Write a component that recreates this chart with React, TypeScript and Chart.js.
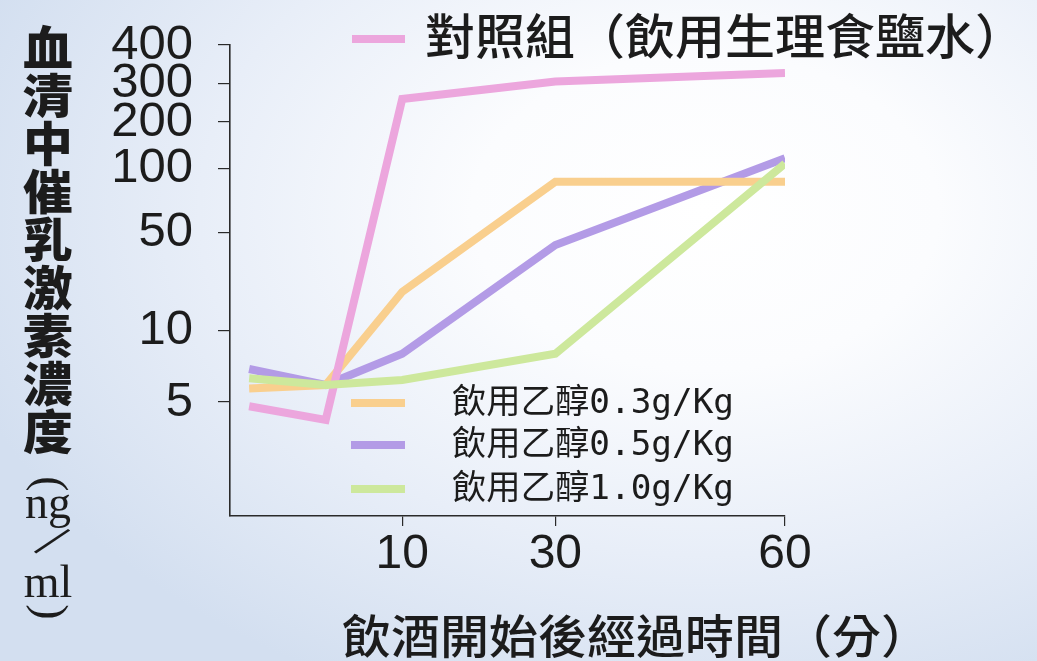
import React, { useEffect, useRef } from 'react';
import { Chart, registerables, LogarithmicScale } from 'chart.js';

Chart.register(...registerables);

// ---- data ----
const TIMES = [-10, 0, 10, 30, 60];
const CONTROL = [4.8, 4.2, 255, 305, 325];
const ETHANOL_03 = [5.7, 5.9, 19, 87, 87];
const ETHANOL_05 = [6.9, 5.9, 8.0, 41, 117];
const ETHANOL_10 = [6.3, 5.9, 6.2, 8.0, 108];

const SERIES_LABELS = ['對照組（飲用生理食鹽水）', '飲用乙醇0.3g/Kg', '飲用乙醇0.5g/Kg', '飲用乙醇1.0g/Kg'];
const X_TICKS = [10, 30, 60];
const Y_TICKS = [5, 10, 50, 100, 200, 300, 400];
// The original hand-drawn log axis: relative height of each tick mark on the axis
const Y_TICK_HEIGHTS = [0.242, 0.393, 0.601, 0.737, 0.8365, 0.918, 1];

const Y_TITLE = ['血', '清', '中', '催', '乳', '激', '素', '濃', '度'];
const X_TITLE = '飲酒開始後經過時間（分）';

const COLORS = ['#eca6dd', '#f9cf8e', '#b39be6', '#cde89c'];

class AnchoredLogScale extends LogarithmicScale {
  static id = 'anchoredLog';
  frac(value: number) {
    const L = Y_TICKS.map((v) => Math.log10(v));
    const H = Y_TICK_HEIGHTS;
    const lv = Math.log10(value);
    let i = 0;
    while (i < L.length - 2 && lv > L[i + 1]) i++;
    const t = (lv - L[i]) / (L[i + 1] - L[i]);
    return H[i] + t * (H[i + 1] - H[i]);
  }
  getPixelForValue(value: number) {
    if (value === undefined || value === null || !(value > 0)) return NaN;
    const f = this.frac(value);
    return this.bottom - f * (this.bottom - this.top);
  }
  getValueForPixel(pixel: number) {
    const f = (this.bottom - pixel) / (this.bottom - this.top);
    const L = Y_TICKS.map((v) => Math.log10(v));
    const H = Y_TICK_HEIGHTS;
    let i = 0;
    while (i < H.length - 2 && f > H[i + 1]) i++;
    const t = (f - H[i]) / (H[i + 1] - H[i]);
    return Math.pow(10, L[i] + t * (L[i + 1] - L[i]));
  }
}
Chart.register(AnchoredLogScale as any);

function drawFit(ctx: CanvasRenderingContext2D, text: string, x: number, y: number, width: number, font: string) {
  ctx.save();
  ctx.font = font;
  ctx.textAlign = 'left';
  ctx.textBaseline = 'middle';
  const w = ctx.measureText(text).width;
  ctx.translate(x, y);
  ctx.scale(width / w, 1);
  ctx.fillText(text, 0, 0);
  ctx.restore();
}

const decor = {
  id: 'decor',
  afterDraw(chart: any) {
    const ctx: CanvasRenderingContext2D = chart.ctx;
    const ds = chart.data.datasets;
    ctx.save();
    ctx.fillStyle = '#1c1c1c';
    ctx.lineCap = 'butt';

    // top legend (control)
    ctx.strokeStyle = ds[0].borderColor;
    ctx.lineWidth = 8;
    ctx.beginPath();
    ctx.moveTo(352, 39);
    ctx.lineTo(405, 39);
    ctx.stroke();
    drawFit(ctx, ds[0].label, 425, 36, 600, '500 48px "Noto Sans CJK TC"');

    // middle legend (ethanol groups)
    const ys = [403, 445, 489];
    for (let i = 1; i <= 3; i++) {
      const y = ys[i - 1];
      ctx.strokeStyle = ds[i].borderColor;
      ctx.lineWidth = 8;
      ctx.beginPath();
      ctx.moveTo(351, y);
      ctx.lineTo(405, y);
      ctx.stroke();
      drawFit(ctx, ds[i].label, 452, y + 1, 282, '34px "DejaVu Sans Mono", "Noto Sans CJK TC"');
    }

    // y title (vertical)
    ctx.font = '900 47px "Noto Sans CJK TC"';
    ctx.textAlign = 'center';
    ctx.textBaseline = 'middle';
    Y_TITLE.forEach((c, i) => {
      ctx.save();
      ctx.translate(48, 47 + i * 48);
      ctx.scale(1.06, 1);
      ctx.fillText(c, 0, 0);
      ctx.restore();
    });

    // unit (ng/ml) vertical
    ctx.font = '46px "Liberation Serif"';
    ctx.save();
    ctx.translate(48, 484);
    ctx.rotate(Math.PI / 2);
    ctx.fillText('(', 0, 0);
    ctx.restore();
    ctx.textBaseline = 'alphabetic';
    ctx.fillText('ng', 48, 518);
    ctx.fillText('ml', 48, 597);
    ctx.textBaseline = 'middle';
    ctx.save();
    ctx.translate(50, 544);
    ctx.rotate(0.65);
    ctx.font = '58px "Liberation Serif"';
    ctx.fillText('/', 0, 0);
    ctx.restore();
    ctx.save();
    ctx.translate(48, 612);
    ctx.rotate(Math.PI / 2);
    ctx.fillText(')', 0, 0);
    ctx.restore();

    // x title
    drawFit(ctx, X_TITLE, 342, 636, 588, '500 46px "Noto Sans CJK TC"');
    ctx.restore();
  },
};

export default function App() {
  const ref = useRef<HTMLCanvasElement | null>(null);
  useEffect(() => {
    if (!ref.current) return;
    const series = [CONTROL, ETHANOL_03, ETHANOL_05, ETHANOL_10];
    const order = [1, 2, 3, 0];
    const chart = new Chart(ref.current, {
      type: 'line',
      data: {
        datasets: series.map((vals, i) => ({
          label: SERIES_LABELS[i],
          data: TIMES.map((t, j) => ({ x: t, y: vals[j] })),
          borderColor: COLORS[i],
          backgroundColor: COLORS[i],
          borderWidth: 8,
          pointRadius: 0,
          tension: 0,
          fill: false,
          borderJoinStyle: 'miter' as const,
          borderCapStyle: 'butt' as const,
          order: order[i],
        })),
      },
      options: {
        responsive: false,
        animation: false,
        layout: { padding: { left: 0, top: 45, right: 252, bottom: 0 } },
        plugins: { legend: { display: false }, tooltip: { enabled: false } },
        scales: {
          x: {
            type: 'linear',
            min: -12.5,
            max: 60,
            afterBuildTicks: (s: any) => {
              s.ticks = X_TICKS.map((v) => ({ value: v }));
            },
            afterFit: (s: any) => {
              s.height = 145;
              s.paddingLeft = 0;
              s.paddingRight = 0;
            },
            grid: { display: true, drawOnChartArea: false, drawTicks: true, tickLength: 10, color: '#2a2a2a', lineWidth: 1.2 },
            border: { display: true, color: '#2a2a2a', width: 1.6 },
            ticks: {
              font: { family: '"Liberation Sans", Arial', size: 48 },
              color: '#1c1c1c',
              padding: 0,
              autoSkip: false,
              maxRotation: 0,
              callback: (v: any) => String(v),
            },
          },
          y: {
            type: 'anchoredLog' as any,
            min: 3,
            max: 400,
            afterBuildTicks: (s: any) => {
              s.ticks = Y_TICKS.map((v) => ({ value: v }));
            },
            afterFit: (s: any) => {
              s.width = 230;
              s.paddingTop = 0;
              s.paddingBottom = 0;
            },
            grid: { display: true, drawOnChartArea: false, drawTicks: true, tickLength: 12, color: '#2a2a2a', lineWidth: 1.2 },
            border: { display: true, color: '#2a2a2a', width: 1.6 },
            ticks: {
              font: { family: '"Liberation Sans", Arial', size: 49 },
              color: '#1c1c1c',
              padding: 25,
              autoSkip: false,
              callback: (v: any) => String(v),
            },
          },
        },
      },
      plugins: [decor],
    } as any);
    return () => chart.destroy();
  }, []);

  return (
    <div
      style={{
        position: 'absolute',
        left: 0,
        top: 0,
        width: 1037,
        height: 661,
        background:
          'radial-gradient(ellipse 75% 80% at 68% 32%, #ffffff 0%, #fbfcfe 30%, #e8eef8 65%, #d3dff0 100%)',
      }}
    >
      <canvas ref={ref} width={1037} height={661} style={{ display: 'block' }} />
    </div>
  );
}
